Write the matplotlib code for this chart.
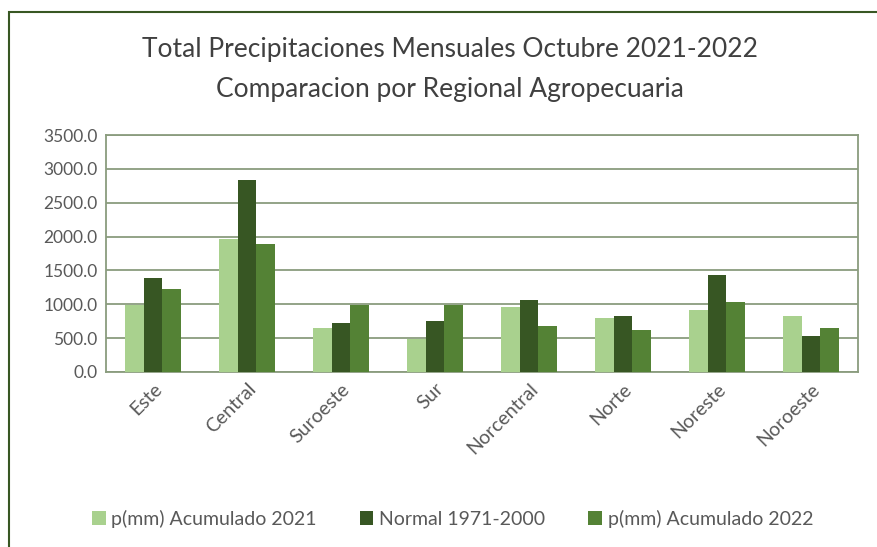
import matplotlib

matplotlib.use("Agg")
import matplotlib.pyplot as plt
import numpy as np
from matplotlib.patches import Rectangle

regiones = ["Este", "Central", "Suroeste", "Sur", "Norcentral", "Norte", "Noreste", "Noroeste"]
acum_2021 = [990, 1970, 650, 490, 960, 795, 910, 830]
normal_1971_2000 = [1385, 2840, 725, 760, 1060, 830, 1435, 530]
acum_2022 = [1230, 1890, 990, 990, 675, 620, 1030, 655]
series_labels = ["p(mm) Acumulado 2021", "Normal 1971-2000", "p(mm) Acumulado 2022"]

plt.rcParams["font.family"] = ["Lato", "DejaVu Sans"]

fig = plt.figure(figsize=(8.77, 5.47), dpi=100)
ax = fig.add_axes([106 / 877, 1 - 372 / 547, 752 / 877, 237 / 547])

colors = ["#A9D18E", "#375623", "#548235"]
x = np.arange(len(regiones))
w = 0.2
for i, (vals, c, lab) in enumerate(zip([acum_2021, normal_1971_2000, acum_2022], colors, series_labels)):
    ax.bar(x + (i - 1) * w, vals, width=w, color=c, label=lab, zorder=3)

grid_c = "#8A9C7E"
ax.set_ylim(0, 3500)
ax.set_xlim(-0.5, len(regiones) - 0.5)
ax.set_yticks(np.arange(0, 3501, 500))
ax.set_yticklabels([f"{v:.1f}" for v in np.arange(0, 3501, 500)], fontsize=12.5, color="#595959")
ax.yaxis.grid(True, color=grid_c, linewidth=1.3, zorder=0)
ax.set_axisbelow(True)
ax.set_xticks(x)
ax.set_xticklabels(regiones, rotation=45, ha="right", rotation_mode="anchor",
                   fontsize=14, color="#595959")
ax.tick_params(axis="both", length=0, pad=6)
for s in ax.spines.values():
    s.set_color(grid_c)
    s.set_linewidth(1.3)

fig.text(0.513, 1 - 50 / 547, "Total Precipitaciones Mensuales Octubre 2021-2022",
         ha="center", va="center", fontsize=19, color="#404040")
fig.text(0.513, 1 - 89 / 547, "Comparacion por Regional Agropecuaria",
         ha="center", va="center", fontsize=19, color="#404040")

fig.legend(loc="center", bbox_to_anchor=(0.516, 1 - 519 / 547), ncol=3, frameon=False,
           fontsize=14, handlelength=0.7, handleheight=0.7, handletextpad=0.3,
           columnspacing=2.2, labelcolor="#595959")

fig.patches.append(Rectangle((9 / 877, -0.05), 1.1, 1 - 12 / 547 + 0.05, transform=fig.transFigure,
                             fill=False, edgecolor="#385723", linewidth=1.5))

fig.savefig("out.png", dpi=100, facecolor="white")
